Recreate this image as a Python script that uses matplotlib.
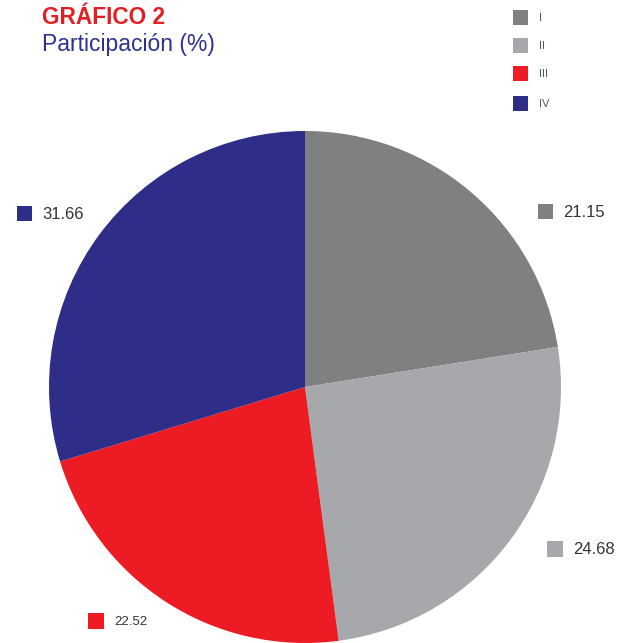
import matplotlib.pyplot as plt
from matplotlib.patches import Rectangle

categories = ["I", "II", "III", "IV"]
# printed values
values = [21.15, 24.68, 22.52, 31.66]
# slice sizes as drawn in the source chart (they differ slightly from the printed values)
slice_share = [22.5, 25.4, 22.4, 29.7]
colors = ["#808083", "#a7a8ab", "#ed1c24", "#2e2d88"]

W, H = 633, 643
plt.rcParams['font.family'] = ['Liberation Sans', 'DejaVu Sans']
fig = plt.figure(figsize=(W / 100, H / 100), dpi=100)

# pie placed in pixel space
cx, cy, r = 305, 387, 256
ax = fig.add_axes([(cx - r) / W, (H - cy - r) / H, 2 * r / W, 2 * r / H])
ax.pie(slice_share, colors=colors, startangle=90, counterclock=False,
       wedgeprops=dict(linewidth=0))
ax.set_aspect('equal')
ax.set_xlim(-1, 1)
ax.set_ylim(-1, 1)
ax.axis('off')


def px(x, y):
    return x / W, 1 - y / H


def square(x, y, s, c):
    fig.patches.append(Rectangle(px(x, y + s), s / W, s / H, transform=fig.transFigure,
                                 facecolor=c, edgecolor='none'))


fig.text(*px(42, 17), "GRÁFICO 2", color="#e31e24", fontsize=16.3,
         fontweight='bold', va='center', ha='left')
fig.text(*px(42, 44), "Participación (%)", color="#2e3192", fontsize=16.5,
         va='center', ha='left')

# legend
leg_y = [10, 38, 66, 96]
for cat, c, y in zip(categories, colors, leg_y):
    square(513, y, 15, c)
    fig.text(*px(539, y + 8), cat, color="#555555", fontsize=8, va='center', ha='left')

# value labels: (square x, square y, square size, fontsize)
lab_pos = [(538, 204, 15, 12), (547, 541, 16, 12), (88, 613, 16, 9.5), (17, 206, 15, 12)]
for v, c, (x, y, s, fs) in zip(values, colors, lab_pos):
    square(x, y, s, c)
    fig.text(*px(x + s + 10, y + s / 2 + 1), f"{v:.2f}", color="#333333", fontsize=fs,
             va='center', ha='left')

fig.savefig("out.png", dpi=100)
